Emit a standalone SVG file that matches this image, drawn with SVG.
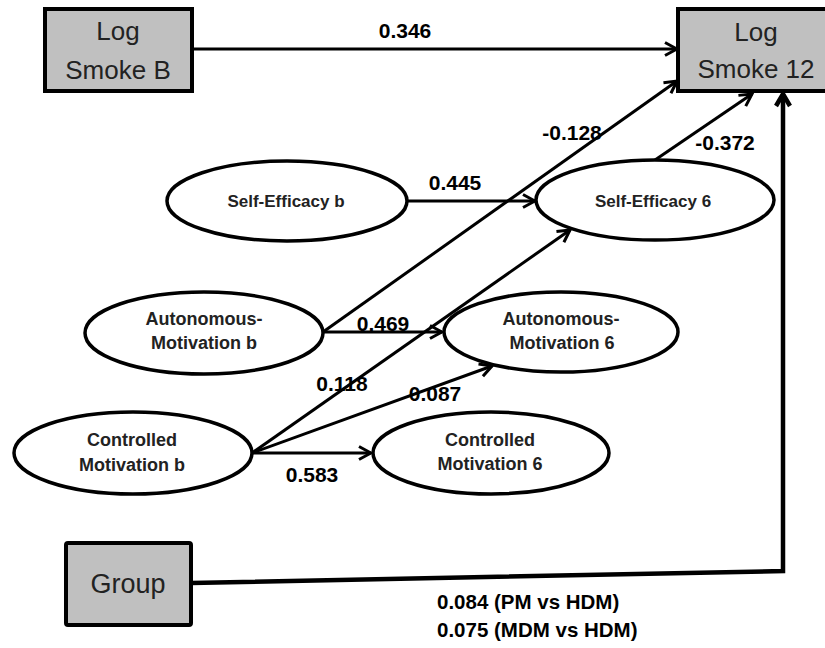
<svg xmlns="http://www.w3.org/2000/svg" width="825" height="648" viewBox="0 0 825 648">
<style>
.box{fill:#c0c0c0;stroke:#000;stroke-width:4}
.ell{fill:#fff;stroke:#000;stroke-width:3.5}
.bt{font-family:"Liberation Sans",Arial,sans-serif;font-size:26px;fill:#222;text-anchor:middle}
.et{font-family:"Liberation Sans",Arial,sans-serif;font-size:18px;font-weight:bold;fill:#222;text-anchor:middle}
.lb{font-family:"Liberation Sans",Arial,sans-serif;font-size:21px;font-weight:bold;fill:#000;text-anchor:middle}
.gl{font-family:"Liberation Sans",Arial,sans-serif;font-size:20.5px;font-weight:bold;fill:#000}
.c{fill:none;stroke:#000;stroke-width:3;marker-end:url(#arr)}
</style>
<defs>
<marker id="arr" viewBox="-16 -9 18 18" refX="0" refY="0" markerWidth="18" markerHeight="18" markerUnits="userSpaceOnUse" orient="auto">
<path d="M-12,-6.5 L0,0 L-12,6.5" fill="none" stroke="#000" stroke-width="3"/>
</marker>
<marker id="arrBig" viewBox="-18 -10 20 20" refX="0" refY="0" markerWidth="20" markerHeight="20" markerUnits="userSpaceOnUse" orient="auto">
<path d="M-12,-7 L0,0 L-12,7" fill="none" stroke="#000" stroke-width="4.5"/>
</marker>
</defs>
<rect width="825" height="648" fill="#fff"/>

<g id="logSmokeB">
<rect class="box" x="45" y="9" width="147" height="82"/>
<text class="bt" x="118" y="40">Log</text>
<text class="bt" x="118" y="79">Smoke B</text>
</g>
<g id="logSmoke12">
<rect class="box" x="678" y="9" width="160" height="82"/>
<text class="bt" x="756" y="41">Log</text>
<text class="bt" x="756" y="78">Smoke 12</text>
</g>
<g id="selfEfficacyB">
<ellipse class="ell" cx="287" cy="201" rx="120" ry="40"/>
<text class="et" x="286" y="207" style="font-size:17px">Self-Efficacy b</text>
</g>
<g id="selfEfficacy6">
<ellipse class="ell" cx="655" cy="200" rx="119" ry="40"/>
<text class="et" x="653" y="207" style="font-size:17px">Self-Efficacy 6</text>
</g>
<g id="autonomousB">
<ellipse class="ell" cx="204" cy="333" rx="119" ry="41"/>
<text class="et" x="204" y="325">Autonomous-</text>
<text class="et" x="204" y="349">Motivation b</text>
</g>
<g id="autonomous6">
<ellipse class="ell" cx="561" cy="332" rx="117" ry="40"/>
<text class="et" x="561" y="325">Autonomous-</text>
<text class="et" x="562" y="349">Motivation 6</text>
</g>
<g id="controlledB">
<ellipse class="ell" cx="133" cy="453" rx="119" ry="41"/>
<text class="et" x="132" y="446">Controlled</text>
<text class="et" x="132" y="471">Motivation b</text>
</g>
<g id="controlled6">
<ellipse class="ell" cx="491" cy="453" rx="118" ry="41"/>
<text class="et" x="490" y="446">Controlled</text>
<text class="et" x="490" y="470">Motivation 6</text>
</g>
<g id="group">
<rect class="box" x="66" y="543" width="125" height="82" rx="2"/>
<text class="bt" x="128" y="593" style="font-size:27px">Group</text>
</g>

<g id="connectors">
<line class="c" x1="192" y1="49" x2="677" y2="49"/>
<line class="c" x1="407" y1="201" x2="535" y2="201"/>
<line class="c" x1="655" y1="160" x2="752" y2="94"/>
<line class="c" x1="323" y1="332" x2="677" y2="81"/>
<line class="c" x1="323" y1="332" x2="442" y2="332"/>
<line class="c" x1="252" y1="453" x2="570" y2="230"/>
<line class="c" x1="252" y1="453" x2="492" y2="366"/>
<line class="c" x1="252" y1="453" x2="371" y2="453"/>
<polyline fill="none" stroke="#000" stroke-width="4.5" stroke-linejoin="miter" marker-end="url(#arrBig)" points="191,583 783,571 783,94"/>
</g>

<g id="labels">
<text class="lb" x="405" y="38">0.346</text>
<text class="lb" x="455" y="190">0.445</text>
<text class="lb" x="572" y="140">-0.128</text>
<text class="lb" x="725" y="150">-0.372</text>
<text class="lb" x="383" y="331">0.469</text>
<text class="lb" x="342" y="391">0.118</text>
<text class="lb" x="435" y="401">0.087</text>
<text class="lb" x="312" y="482">0.583</text>
<text class="gl" x="437" y="609">0.084 (PM vs HDM)</text>
<text class="gl" x="437" y="637">0.075 (MDM vs HDM)</text>
</g>
</svg>
